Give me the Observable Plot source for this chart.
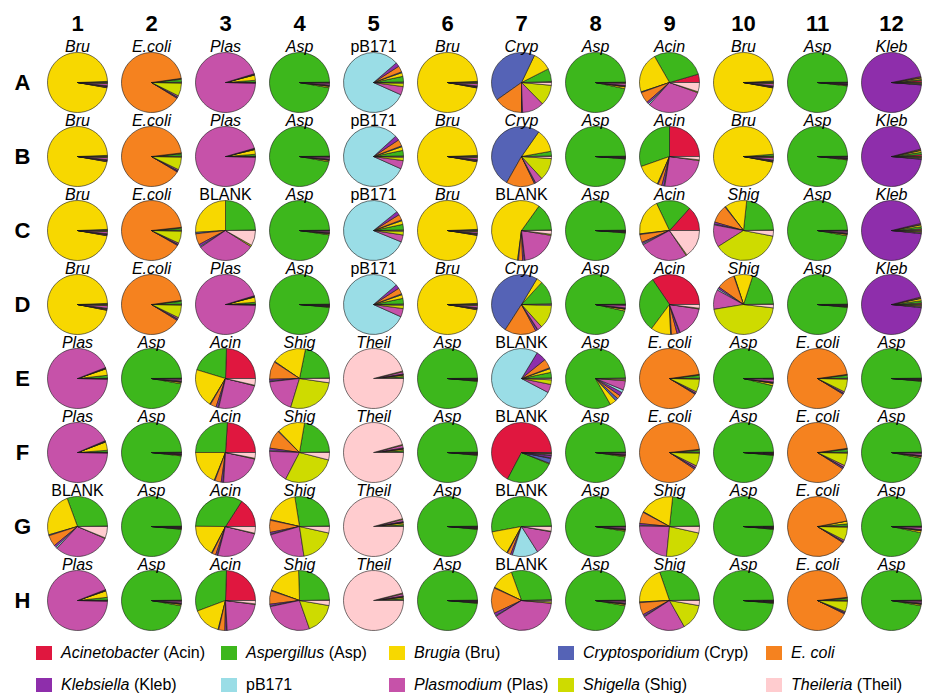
<!DOCTYPE html>
<html>
<head>
<meta charset="utf-8">
<script src="https://cdn.jsdelivr.net/npm/d3@7"></script>
<script src="https://cdn.jsdelivr.net/npm/@observablehq/plot@0.6"></script>
<style>
  body { margin: 0; background: #fff; font-family: "Liberation Sans", Arial, sans-serif; }
  #chart { position: relative; width: 926px; height: 697px; overflow: hidden; }
  #chart svg { display: block; }
  .legend-item { position: absolute; display: flex; align-items: center; font-size: 16px; color: #000; white-space: nowrap; }
  .legend-item .sw { width: 16px; height: 14px; margin-right: 9px; flex: none; }
</style>
</head>
<body>
<div id="chart"></div>
<script>
// Organisms detected per well, in the order the slices are laid out
const categories = ["Acin", "Asp", "Bru", "Cryp", "Ecoli", "Kleb", "pB171", "Plas", "Shig", "Theil"];
const colors = ["#e0173f", "#3db71c", "#f7d800", "#5563b6", "#f5821f", "#8e2eab", "#9adde6", "#c652a9", "#cedb00", "#ffcccf"];
const legendGenus = ["Acinetobacter", "Aspergillus", "Brugia", "Cryptosporidium", "E. coli", "Klebsiella", "pB171", "Plasmodium", "Shigella", "Theileria"];
const legendAbbr = ["Acin", "Asp", "Bru", "Cryp", "", "Kleb", "", "Plas", "Shig", "Theil"];

const rows = ["A", "B", "C", "D", "E", "F", "G", "H"];
const cols = [1, 2, 3, 4, 5, 6, 7, 8, 9, 10, 11, 12];

// Sample loaded in each well
const wellLabels = [
  ["Bru", "E.coli", "Plas", "Asp", "pB171", "Bru", "Cryp", "Asp", "Acin", "Bru", "Asp", "Kleb"],
  ["Bru", "E.coli", "Plas", "Asp", "pB171", "Bru", "Cryp", "Asp", "Acin", "Bru", "Asp", "Kleb"],
  ["Bru", "E.coli", "BLANK", "Asp", "pB171", "Bru", "BLANK", "Asp", "Acin", "Shig", "Asp", "Kleb"],
  ["Bru", "E.coli", "Plas", "Asp", "pB171", "Bru", "Cryp", "Asp", "Acin", "Shig", "Asp", "Kleb"],
  ["Plas", "Asp", "Acin", "Shig", "Theil", "Asp", "BLANK", "Asp", "E. coli", "Asp", "E. coli", "Asp"],
  ["Plas", "Asp", "Acin", "Shig", "Theil", "Asp", "BLANK", "Asp", "E. coli", "Asp", "E. coli", "Asp"],
  ["BLANK", "Asp", "Acin", "Shig", "Theil", "Asp", "BLANK", "Asp", "Shig", "Asp", "E. coli", "Asp"],
  ["Plas", "Asp", "Acin", "Shig", "Theil", "Asp", "BLANK", "Asp", "Shig", "Asp", "E. coli", "Asp"]
];
const uprightLabels = ["BLANK", "pB171"];

// Read share (%) per organism, columns 1-12; values follow the categories order
const rowA = [
  [0.2, 0.4, 96.6, 0.2, 0.4, 0.3, 0.2, 1.1, 0.4, 0.2],
  [0.2, 1.5, 0.4, 0.1, 89.0, 0.5, 0.2, 0.8, 7.0, 0.3],
  [0.2, 1.0, 2.8, 0.1, 0.3, 0.2, 0.1, 95.0, 0.2, 0.1],
  [0.2, 97.0, 0.8, 0.1, 0.3, 0.2, 0.1, 1.0, 0.2, 0.1],
  [0.3, 3.0, 2.0, 0.5, 3.3, 2.2, 82.0, 4.5, 1.8, 0.4],
  [0.2, 0.4, 96.5, 0.2, 0.4, 0.3, 0.2, 1.2, 0.4, 0.2],
  [0.5, 7.0, 10.4, 41.9, 15.2, 0.4, 0.2, 11.8, 11.1, 1.5],
  [0.2, 96.5, 1.0, 0.1, 0.3, 0.2, 0.1, 1.2, 0.3, 0.1],
  [4.5, 28.8, 21.8, 0.4, 6.0, 1.0, 0.8, 31.2, 0.5, 5.0],
  [0.2, 0.6, 96.3, 0.2, 0.4, 0.3, 0.2, 1.2, 0.4, 0.2],
  [0.2, 98.0, 0.4, 0.1, 0.3, 0.2, 0.1, 0.5, 0.1, 0.1],
  [1.0, 0.6, 0.8, 0.3, 0.5, 95.5, 0.2, 0.5, 0.4, 0.2]
];
const rowB = [
  [0.2, 0.4, 96.6, 0.2, 0.4, 0.3, 0.2, 1.1, 0.4, 0.2],
  [0.2, 1.2, 0.4, 0.1, 89.5, 0.5, 0.2, 0.7, 6.9, 0.3],
  [0.2, 1.0, 2.5, 0.1, 0.3, 0.2, 0.1, 95.3, 0.2, 0.1],
  [0.2, 97.0, 0.8, 0.1, 0.3, 0.2, 0.1, 1.0, 0.2, 0.1],
  [0.3, 3.0, 2.0, 0.5, 3.5, 2.5, 81.5, 4.5, 1.8, 0.4],
  [0.2, 0.4, 96.6, 0.2, 0.4, 0.3, 0.2, 1.1, 0.4, 0.2],
  [0.3, 2.5, 12.5, 51.5, 15.3, 0.5, 0.3, 4.0, 12.0, 1.1],
  [0.2, 98.5, 0.3, 0.1, 0.2, 0.1, 0.1, 0.3, 0.1, 0.1],
  [25.0, 30.4, 13.0, 0.5, 2.0, 1.2, 0.4, 25.3, 0.4, 1.8],
  [0.2, 1.0, 95.8, 0.2, 0.4, 0.3, 0.2, 1.3, 0.4, 0.2],
  [0.2, 98.0, 0.4, 0.1, 0.3, 0.2, 0.1, 0.5, 0.1, 0.1],
  [1.0, 1.2, 1.0, 0.3, 0.5, 94.5, 0.3, 0.6, 0.4, 0.2]
];
const rowC = [
  [0.2, 0.4, 96.6, 0.2, 0.4, 0.3, 0.2, 1.1, 0.4, 0.2],
  [0.2, 1.0, 0.4, 0.1, 90.0, 0.5, 0.2, 0.7, 6.6, 0.3],
  [0.3, 24.7, 26.0, 0.8, 6.0, 1.2, 0.5, 31.5, 0.8, 8.2],
  [0.2, 97.5, 0.6, 0.1, 0.3, 0.2, 0.1, 0.8, 0.1, 0.1],
  [0.3, 3.0, 2.0, 0.5, 3.0, 2.0, 83.0, 3.8, 2.0, 0.4],
  [0.2, 0.4, 96.8, 0.2, 0.4, 0.3, 0.2, 0.9, 0.4, 0.2],
  [0.3, 14.8, 57.8, 0.5, 2.2, 1.0, 0.3, 20.5, 0.6, 2.0],
  [0.2, 98.5, 0.3, 0.1, 0.2, 0.1, 0.1, 0.3, 0.1, 0.1],
  [13.3, 18.8, 19.7, 0.4, 4.3, 0.8, 0.6, 26.5, 0.5, 15.1],
  [0.3, 23.0, 12.0, 0.4, 9.8, 1.1, 0.4, 12.0, 38.0, 3.0],
  [0.2, 97.0, 0.8, 0.1, 0.3, 0.2, 0.1, 1.0, 0.2, 0.1],
  [0.8, 1.2, 1.0, 0.3, 0.5, 94.5, 0.3, 0.6, 0.5, 0.3]
];
const rowD = [
  [0.2, 0.4, 96.3, 0.2, 0.4, 0.3, 0.2, 1.4, 0.4, 0.2],
  [0.2, 1.5, 0.4, 0.1, 89.0, 0.6, 0.2, 0.8, 6.9, 0.3],
  [0.2, 1.0, 2.8, 0.1, 0.3, 0.2, 0.1, 95.0, 0.2, 0.1],
  [0.2, 98.3, 0.3, 0.1, 0.3, 0.2, 0.1, 0.3, 0.1, 0.1],
  [0.3, 3.0, 2.0, 0.5, 3.3, 2.2, 82.0, 4.5, 1.8, 0.4],
  [0.2, 0.4, 96.6, 0.2, 0.4, 0.3, 0.2, 1.1, 0.4, 0.2],
  [0.4, 12.8, 3.2, 49.5, 17.0, 1.0, 0.3, 2.5, 12.8, 0.5],
  [0.2, 96.3, 1.0, 0.1, 0.3, 0.2, 0.1, 1.5, 0.2, 0.1],
  [34.5, 30.3, 10.8, 0.5, 3.0, 1.4, 0.3, 16.8, 0.4, 2.0],
  [0.3, 19.7, 10.0, 0.3, 9.9, 1.0, 0.8, 10.6, 45.6, 1.8],
  [0.2, 98.3, 0.3, 0.1, 0.3, 0.2, 0.1, 0.3, 0.1, 0.1],
  [0.8, 1.2, 1.2, 0.3, 0.5, 94.3, 0.3, 0.6, 0.5, 0.3]
];
const rowE = [
  [0.2, 1.5, 3.5, 0.1, 0.3, 0.2, 0.1, 93.8, 0.2, 0.1],
  [0.2, 97.0, 0.8, 0.1, 0.3, 0.2, 0.1, 1.0, 0.2, 0.1],
  [24.5, 20.8, 21.0, 0.4, 3.2, 1.1, 0.4, 24.7, 0.3, 3.6],
  [0.3, 21.5, 18.6, 0.4, 9.6, 1.1, 0.3, 18.5, 27.4, 2.3],
  [0.2, 0.8, 0.8, 0.1, 0.2, 0.2, 0.1, 1.2, 0.4, 96.0],
  [0.2, 98.3, 0.3, 0.1, 0.3, 0.2, 0.1, 0.3, 0.1, 0.1],
  [0.3, 3.0, 2.0, 0.5, 5.0, 5.5, 76.0, 4.5, 2.5, 0.7],
  [0.3, 83.0, 3.5, 1.5, 2.0, 2.0, 1.5, 5.0, 0.7, 0.5],
  [0.2, 1.5, 0.4, 0.1, 89.0, 0.5, 0.2, 0.8, 7.0, 0.3],
  [0.2, 96.0, 1.2, 0.1, 0.3, 0.2, 0.1, 1.6, 0.2, 0.1],
  [0.2, 1.5, 0.4, 0.1, 89.0, 0.5, 0.2, 0.8, 7.0, 0.3],
  [0.2, 98.3, 0.3, 0.1, 0.3, 0.2, 0.1, 0.3, 0.1, 0.1]
];
const rowF = [
  [0.2, 1.0, 4.5, 0.1, 0.3, 0.2, 0.1, 93.4, 0.1, 0.1],
  [0.2, 98.0, 0.4, 0.1, 0.3, 0.2, 0.1, 0.5, 0.1, 0.1],
  [24.0, 26.0, 18.9, 0.4, 3.4, 1.0, 0.3, 22.5, 0.4, 3.1],
  [0.3, 22.0, 15.0, 0.4, 10.0, 1.3, 0.4, 18.0, 28.6, 4.0],
  [0.2, 0.8, 0.8, 0.1, 0.2, 0.2, 0.1, 1.5, 0.4, 95.7],
  [0.2, 98.3, 0.3, 0.1, 0.3, 0.2, 0.1, 0.3, 0.1, 0.1],
  [67.3, 26.5, 0.4, 2.6, 0.3, 1.2, 0.3, 0.8, 0.3, 0.3],
  [0.2, 97.5, 0.6, 0.1, 0.3, 0.2, 0.1, 0.8, 0.1, 0.1],
  [0.2, 1.0, 0.4, 0.1, 89.0, 0.8, 0.2, 1.0, 7.0, 0.3],
  [0.2, 98.3, 0.3, 0.1, 0.3, 0.2, 0.1, 0.3, 0.1, 0.1],
  [0.2, 1.5, 0.4, 0.1, 88.7, 0.8, 0.2, 1.0, 6.8, 0.3],
  [0.2, 96.8, 0.8, 0.1, 0.3, 0.2, 0.1, 1.2, 0.2, 0.1]
];
const rowG = [
  [0.3, 30.3, 23.9, 0.5, 6.0, 1.2, 0.8, 30.5, 0.3, 6.2],
  [0.2, 98.3, 0.3, 0.1, 0.3, 0.2, 0.1, 0.3, 0.1, 0.1],
  [15.9, 34.0, 17.4, 0.4, 2.0, 0.9, 0.3, 25.2, 0.3, 3.6],
  [0.3, 27.2, 18.8, 0.4, 6.5, 1.0, 0.3, 22.9, 19.1, 3.5],
  [0.2, 0.8, 1.0, 0.1, 0.2, 0.2, 0.1, 1.2, 0.4, 95.8],
  [0.2, 98.3, 0.3, 0.1, 0.3, 0.2, 0.1, 0.3, 0.1, 0.1],
  [0.3, 52.6, 14.0, 0.4, 1.8, 1.0, 13.9, 13.2, 0.3, 2.5],
  [0.2, 97.3, 0.6, 0.1, 0.3, 0.2, 0.1, 1.0, 0.1, 0.1],
  [0.3, 23.0, 18.5, 0.4, 6.2, 1.0, 0.4, 23.6, 23.1, 3.5],
  [0.2, 98.3, 0.3, 0.1, 0.3, 0.2, 0.1, 0.3, 0.1, 0.1],
  [0.2, 1.2, 1.5, 0.1, 88.0, 0.5, 0.2, 0.8, 7.2, 0.3],
  [0.2, 96.5, 1.0, 0.1, 0.3, 0.2, 0.1, 1.3, 0.2, 0.1]
];
const rowH = [
  [0.2, 1.5, 3.5, 0.1, 0.3, 0.2, 0.1, 93.8, 0.2, 0.1],
  [0.2, 97.0, 0.8, 0.1, 0.3, 0.2, 0.1, 1.0, 0.2, 0.1],
  [24.5, 31.2, 15.3, 0.4, 3.3, 0.9, 0.3, 22.0, 0.3, 1.8],
  [0.3, 25.2, 18.9, 0.4, 7.2, 1.0, 0.3, 27.1, 16.9, 2.7],
  [0.2, 0.8, 0.8, 0.1, 0.2, 0.2, 0.1, 1.2, 0.4, 96.0],
  [0.2, 98.3, 0.3, 0.1, 0.3, 0.2, 0.1, 0.3, 0.1, 0.1],
  [0.5, 30.0, 12.3, 0.4, 13.8, 1.5, 0.4, 39.6, 0.8, 0.7],
  [0.2, 97.0, 0.8, 0.1, 0.3, 0.2, 0.1, 1.0, 0.2, 0.1],
  [0.3, 30.0, 20.5, 0.4, 6.6, 1.0, 0.4, 24.0, 14.1, 2.7],
  [0.2, 98.3, 0.3, 0.1, 0.3, 0.2, 0.1, 0.3, 0.1, 0.1],
  [0.2, 1.0, 0.4, 0.1, 91.0, 0.5, 0.2, 0.6, 5.7, 0.3],
  [0.2, 97.0, 0.8, 0.1, 0.3, 0.2, 0.1, 1.0, 0.2, 0.1]
];
const plateRows = [rowA, rowB, rowC, rowD, rowE, rowF, rowG, rowH];

// A pie slice as a custom dot symbol: starts at 3 o'clock, runs counter-clockwise
function wedge(from, to) {
  return {
    draw(context, size) {
      const r = Math.sqrt(size / Math.PI);
      context.moveTo(0, 0);
      context.arc(0, 0, r, -2 * Math.PI * from, -2 * Math.PI * to, true);
      context.closePath();
    }
  };
}

const slices = [];
const wells = [];
rows.forEach((row, ri) => {
  plateRows[ri].forEach((shares, ci) => {
    const total = d3.sum(shares);
    let acc = 0;
    shares.forEach((v, k) => {
      const from = acc / total;
      acc += v;
      slices.push({row, col: cols[ci], category: categories[k], shape: wedge(from, acc / total)});
    });
    wells.push({row, col: cols[ci], label: wellLabels[ri][ci]});
  });
});

const plot = Plot.plot({
  width: 926,
  height: 636,
  margin: 0,
  style: {fontFamily: "'Liberation Sans', Arial, sans-serif", background: "#fff", overflow: "visible"},
  x: {type: "point", domain: cols, range: [77, 891], padding: 0, axis: null},
  y: {type: "point", domain: rows, range: [81.5, 599.5], padding: 0, axis: null},
  color: {domain: categories, range: colors},
  symbol: {type: "identity"},
  marks: [
    Plot.dot(slices, {x: "col", y: "row", r: 30, symbol: "shape", fill: "category", stroke: "#1a1a1a", strokeWidth: 0.6}),
    Plot.text(wells.filter((d) => !uprightLabels.includes(d.label)), {
      x: "col", y: "row", text: "label", dy: -31, lineAnchor: "bottom", fontSize: 16, fontStyle: "italic"
    }),
    Plot.text(wells.filter((d) => uprightLabels.includes(d.label)), {
      x: "col", y: "row", text: "label", dy: -31, lineAnchor: "bottom", fontSize: 16
    }),
    Plot.text(cols, {x: (d) => d, text: (d) => String(d), frameAnchor: "top", dy: 30, lineAnchor: "bottom", fontSize: 22, fontWeight: "bold"}),
    Plot.text(rows, {y: (d) => d, text: (d) => d, frameAnchor: "left", dx: 22, dy: 7, textAnchor: "middle", lineAnchor: "bottom", fontSize: 22, fontWeight: "bold"})
  ]
});

const chart = document.getElementById("chart");
chart.appendChild(plot);

// Legend: two rows of five swatches under the plate
const legendX = [36, 221, 389, 558, 766];
const legendY = [653, 684.5];
categories.forEach((c, i) => {
  const item = document.createElement("div");
  item.className = "legend-item";
  item.style.left = legendX[i % 5] + "px";
  item.style.top = (legendY[Math.floor(i / 5)] - 10) + "px";
  item.style.height = "20px";
  const sw = document.createElement("span");
  sw.className = "sw";
  sw.style.background = colors[i];
  item.appendChild(sw);
  const label = document.createElement("span");
  const name = document.createElement("span");
  name.textContent = legendGenus[i];
  if (legendGenus[i] !== "pB171") name.style.fontStyle = "italic";
  label.appendChild(name);
  if (legendAbbr[i]) label.appendChild(document.createTextNode(" (" + legendAbbr[i] + ")"));
  item.appendChild(label);
  chart.appendChild(item);
});
</script>
</body>
</html>
